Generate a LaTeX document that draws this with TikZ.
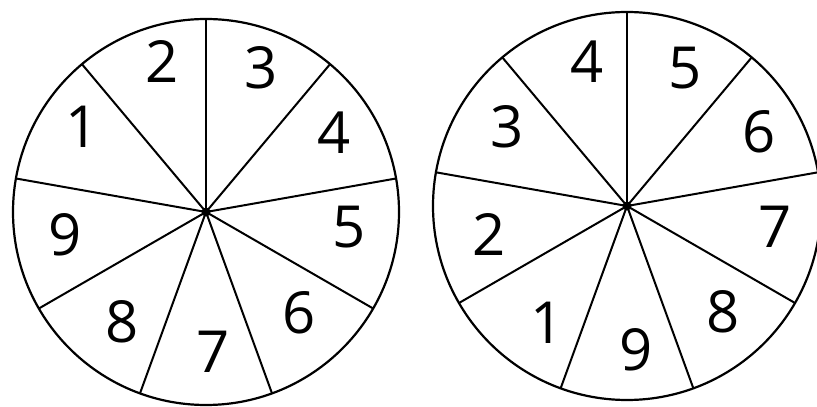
\documentclass[tikz,border=0pt]{standalone}
\usepackage{fontspec}
\setmainfont{Open Sans}
\begin{document}
\begin{tikzpicture}[x=1pt,y=1pt,
  rim/.style={line width=2.2pt},
  spoke/.style={line width=2pt},
  num/.style={font=\fontsize{58}{58}\selectfont, inner sep=0pt}]
\useasboundingbox (0,0) rectangle (817,407);
\begin{scope}
\clip (0,0) rectangle (817,407);
% left wheel
\coordinate (cL) at (206,195);
\draw[rim] (cL) circle (193);
\foreach \a in {90,50,10,-30,-70,-110,-150,170,130}
  \draw[spoke] (cL) -- ([shift={(\a:193)}]cL);
\fill (cL) circle (4.5);
% right wheel
\coordinate (cR) at (627,201);
\draw[rim] (cR) circle (194);
\foreach \a in {90,50,10,-30,-70,-110,-150,170,130}
  \draw[spoke] (cR) -- ([shift={(\a:194)}]cR);
\fill (cR) circle (4.5);
\end{scope}
% left labels
\node[num] (l2) at (162,345) {2};
\node[num] (l3) at (261,339) {3};
\node[num] (l4) at (334,274) {4};
\node[num] (l5) at (349,180) {5};
\node[num] (l6) at (299,94) {6};
\node[num] (l7) at (213,55) {7};
\node[num] (l8) at (122,85) {8};
\node[num] (l9) at (65,172) {9};
\node[num] (l1) at (82,280) {1};
% right labels
\node[num] (r4) at (587,345) {4};
\node[num] (r5) at (685,339) {5};
\node[num] (r6) at (759,275) {6};
\node[num] (r7) at (775,180) {7};
\node[num] (r8) at (723,95) {8};
\node[num] (r9) at (636,57) {9};
\node[num] (r1) at (547,84) {1};
\node[num] (r2) at (489,172) {2};
\node[num] (r3) at (507,280) {3};
\end{tikzpicture}
\end{document}
